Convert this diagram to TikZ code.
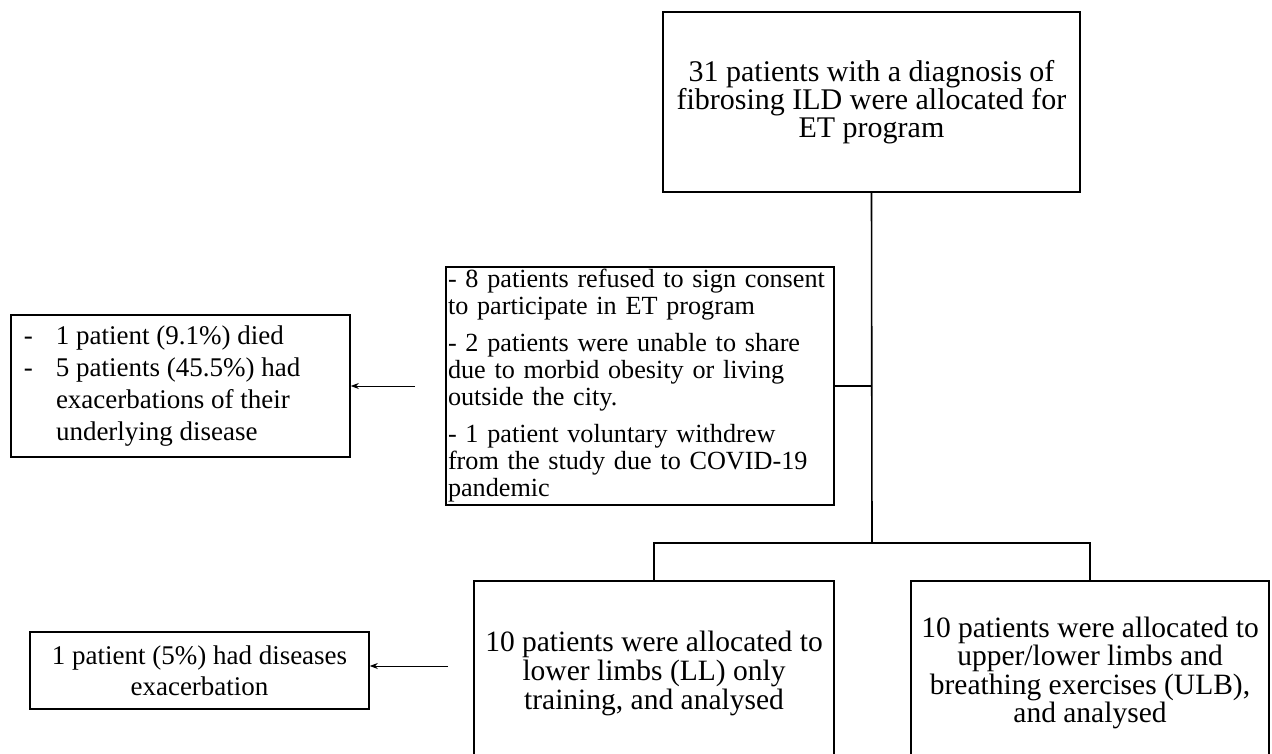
\documentclass[tikz,border=0pt]{standalone}
\usepackage{fontspec}
\setmainfont{Liberation Serif}
\usetikzlibrary{arrows.meta}
\begin{document}
\begin{tikzpicture}[x=1pt,y=-1pt,
  box/.style={draw,line width=1.6pt,inner sep=0pt,rectangle},
  conn/.style={line width=1.6pt},
  arr/.style={line width=0.9pt,-{Stealth[length=8pt,width=6pt]}}
]
\useasboundingbox (0,0) rectangle (1272,754);
\clip (0,0) rectangle (1272,754);

\node[box,minimum width=417pt,minimum height=180pt,align=center,
      font=\fontsize{30}{27.5}\selectfont] (top) at (871.5,102)
  {31 patients with a diagnosis of\\fibrosing ILD were allocated for\\ET program};

\node[box,minimum width=388pt,minimum height=238pt,text width=384pt,align=left,
      inner xsep=2pt,font=\fontsize{26.2}{27}\selectfont] (mid) at (640,386)
  {\mbox{- 8 patients refused to sign consent}\\\mbox{to participate in ET program}\\[10pt]\mbox{- 2 patients were unable to share}\\\mbox{due to morbid obesity or living}\\\mbox{outside the city.}\\[10pt]\mbox{- 1 patient voluntary withdrew}\\\mbox{from the study due to COVID-19}\\\mbox{pandemic}};

\node[box,minimum width=339pt,minimum height=142pt,
      font=\fontsize{27}{32}\selectfont] (died) at (180.5,386)
  {\begin{tabular}{@{\hspace{13pt}}p{32pt}@{}p{294pt}@{}}
   - & 1 patient (9.1\%) died\\
   - & 5 patients (45.5\%) had\\
     & exacerbations of their\\
     & underlying disease
   \end{tabular}};

\node[box,minimum width=339pt,minimum height=77pt,align=center,
      font=\fontsize{27}{31}\selectfont] (exac) at (199.5,670.5)
  {1 patient (5\%) had diseases\\exacerbation};

\node[box,minimum width=360pt,minimum height=184pt,align=center,
      font=\fontsize{29.5}{29}\selectfont] (LL) at (654,673)
  {10 patients were allocated to\\lower limbs (LL) only\\training, and analysed};

\node[box,minimum width=358pt,minimum height=184pt,align=center,
      font=\fontsize{29.5}{28.5}\selectfont] (ULB) at (1090,673)
  {10 patients were allocated to\\upper/lower limbs and\\breathing exercises (ULB),\\and analysed};

\coordinate (j) at (872,543);
\draw[conn] (top.south) -- (j);
\draw[conn] (mid.east) -- (mid.east -| j);
\draw[conn] (LL.north) |- (j) -| (ULB.north);

\coordinate (a1) at (415,386);
\draw[arr] (a1) -- (died.east);
\coordinate (a2) at (448,666);
\draw[arr] (a2) -- (a2 -| exac.east);
\end{tikzpicture}
\end{document}
